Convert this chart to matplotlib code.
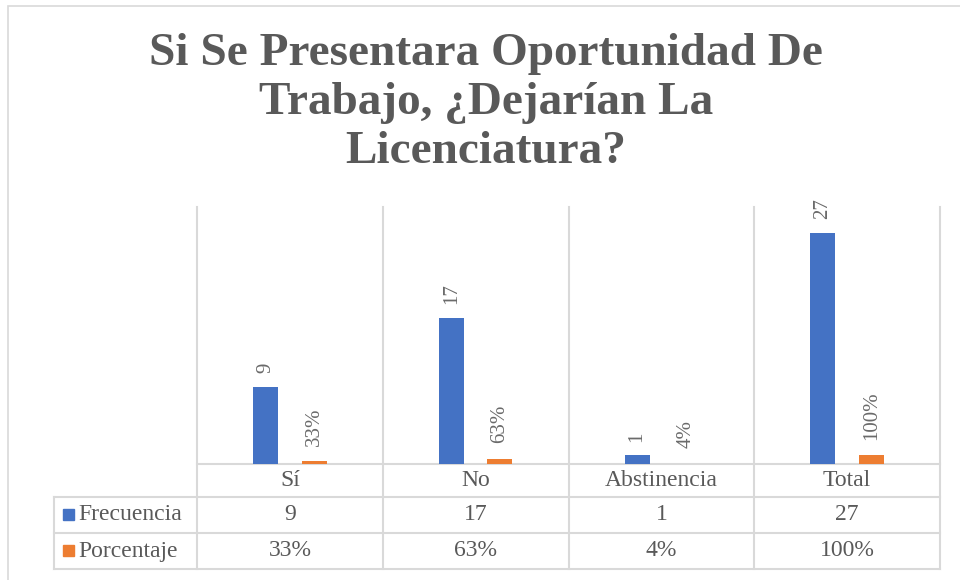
import numpy as np
import matplotlib.pyplot as plt
import matplotlib.transforms as mtransforms
from matplotlib.patches import Rectangle
from matplotlib.lines import Line2D

# Excel-style column chart with a data table underneath
plt.rcParams['font.family'] = ['Liberation Serif', 'DejaVu Serif']

categories = ['Sí', 'No', 'Abstinencia', 'Total']
frecuencia = [9, 17, 1, 27]
porcentaje = [0.33, 0.63, 0.04, 1.00]
frec_labels = ['9', '17', '1', '27']
porc_labels = ['33%', '63%', '4%', '100%']
series_names = ['Frecuencia', 'Porcentaje']
series_colors = ['#4472C4', '#ED7D31']

title = 'Si Se Presentara Oportunidad De\nTrabajo, ¿Dejarían La\nLicenciatura?'

W, H = 960, 580
grey_line = '#D9D9D9'
grey_text = '#595959'

fig = plt.figure(figsize=(W/100, H/100), dpi=100)

# chart border (runs off the right and bottom of the image)
fig.add_artist(Rectangle((8/W, -0.05), 1.0, 1.05 - 6/H, transform=fig.transFigure,
                         fill=False, edgecolor=grey_line, lw=1.2))

fig.text(486/W, 1 - 33/H, title, ha='center', va='top', fontsize=34,
         fontweight='bold', color=grey_text, linespacing=1.22)

# plot area in pixels
top, base, left, right = 207, 464, 197, 940
ax = fig.add_axes([left/W, (H-base)/H, (right-left)/W, (base-top)/H])
x = np.arange(len(categories))
bw = 0.135
off = 0.131
b1 = ax.bar(x - off, frecuencia, bw, color=series_colors[0], zorder=3)
b2 = ax.bar(x + off, porcentaje, bw, color=series_colors[1], zorder=3)
ax.bar_label(b1, labels=frec_labels, rotation=90, padding=10, fontsize=15, color='#6a6a6a')
ax.bar_label(b2, labels=porc_labels, rotation=90, padding=11, fontsize=15, color='#6a6a6a')
ax.set_xlim(-0.5, len(categories) - 0.5)
ax.set_ylim(0, 30)
ax.set_xticks([])
ax.set_yticks([])
for s in ax.spines.values():
    s.set_visible(False)

def yfrac(py):
    return (base - py) / (base - top)

tr = mtransforms.blended_transform_factory(ax.transData, ax.transAxes)
rows = [464, 497, 533, 569]
leg_left = (54 - left) / ((right - left) / len(categories)) - 0.5

# vertical lines of plot area / table
for xb in np.arange(len(categories) + 1) - 0.5:
    ax.add_line(Line2D([xb, xb], [1, yfrac(rows[-1])], transform=tr, color=grey_line,
                       lw=1.5, clip_on=False))
ax.add_line(Line2D([leg_left, leg_left], [yfrac(rows[1]), yfrac(rows[-1])], transform=tr,
                   color=grey_line, lw=1.5, clip_on=False))
ax.add_line(Line2D([-0.5, len(categories) - 0.5], [0, 0], transform=tr, color=grey_line,
                   lw=1.5, clip_on=False))
for r in rows[1:]:
    ax.add_line(Line2D([leg_left, len(categories) - 0.5], [yfrac(r), yfrac(r)], transform=tr,
                       color=grey_line, lw=1.5, clip_on=False))

# table text
yc = [yfrac((rows[i] + rows[i+1]) / 2) for i in range(3)]
for i, c in enumerate(categories):
    ax.text(i, yc[0], c, transform=tr, ha='center', va='center', fontsize=17, color=grey_text)
    ax.text(i, yc[1], frec_labels[i], transform=tr, ha='center', va='center', fontsize=17, color=grey_text)
    ax.text(i, yc[2], porc_labels[i], transform=tr, ha='center', va='center', fontsize=17, color=grey_text)

# legend keys in table
for k, name in enumerate(series_names):
    cy = (rows[k+1] + rows[k+2]) / 2
    fig.add_artist(Rectangle((63/W, 1 - (cy + 5)/H), 11/W, 11/H, transform=fig.transFigure,
                             color=series_colors[k]))
    fig.text(78/W, 1 - cy/H, name, ha='left', va='center', fontsize=17, color=grey_text)

fig.savefig('out.png', dpi=100)
